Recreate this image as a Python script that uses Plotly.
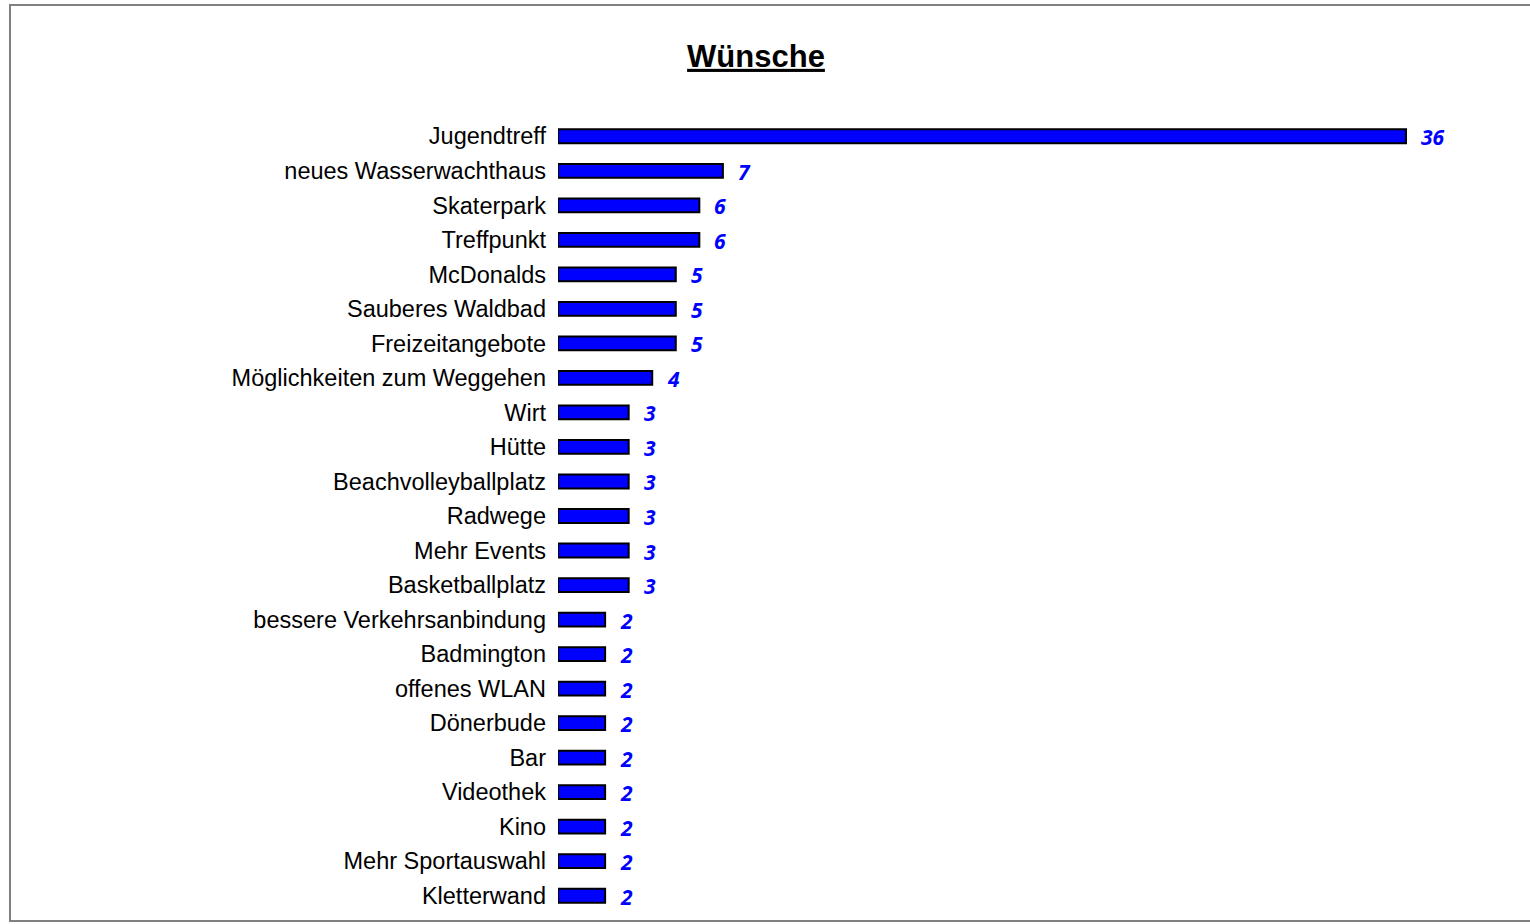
import plotly.graph_objects as go

categories = [
    "Jugendtreff", "neues Wasserwachthaus", "Skaterpark", "Treffpunkt", "McDonalds",
    "Sauberes Waldbad", "Freizeitangebote", "Möglichkeiten zum Weggehen", "Wirt", "Hütte",
    "Beachvolleyballplatz", "Radwege", "Mehr Events", "Basketballplatz",
    "bessere Verkehrsanbindung", "Badmington", "offenes WLAN", "Dönerbude", "Bar",
    "Videothek", "Kino", "Mehr Sportauswahl", "Kletterwand",
]
values = [36, 7, 6, 6, 5, 5, 5, 4, 3, 3, 3, 3, 3, 3, 2, 2, 2, 2, 2, 2, 2, 2, 2]
title = "Wünsche"

W, H = 1530, 924
ML, MR, MT, MB = 558, 30, 119, 11
pw, ph = W - ML - MR, H - MT - MB


def px2paper(x, y):
    return (x - ML) / pw, (H - MB - y) / ph


fig = go.Figure(go.Bar(
    x=values, y=categories, orientation="h",
    marker=dict(color="#0000FF", line=dict(color="black", width=2)),
    width=0.4, showlegend=False, hoverinfo="x+y",
))

for c, v in zip(categories, values):
    fig.add_annotation(x=v, y=c, text="<b><i>" + str(v) + "</i></b>", showarrow=False, xanchor="left",
                       xshift=13, yshift=-1,
                       font=dict(family="Open Sans", size=21, color="#0000FF"))

# outer chart border
x0, y0 = px2paper(10, 5)
x1, y1 = px2paper(1545, 921)
fig.add_shape(type="rect", xref="paper", yref="paper", x0=x0, y0=y1, x1=x1, y1=y0,
              line=dict(color="#808080", width=2), layer="below")

fig.update_layout(
    width=W, height=H,
    margin=dict(l=ML, r=MR, t=MT, b=MB),
    paper_bgcolor="white", plot_bgcolor="white",
    title=dict(text="<b>" + title + "</b>", x=756 / W, xanchor="center", y=1 - 56 / H, yanchor="middle",
               font=dict(family="Liberation Sans", size=31, color="black", lineposition="under")),
    xaxis=dict(range=[0, pw / ((1406 - 558) / 36)], visible=False, showgrid=False, zeroline=False),
    yaxis=dict(autorange="reversed", showgrid=False, showline=False, ticks="",
               ticklabelstandoff=11,
               tickfont=dict(family="Liberation Sans", size=23.5, color="black")),
    font=dict(family="Liberation Sans"),
)

fig.write_html("out.html", config={"displayModeBar": False},
               post_script="document.body.style.margin='0';")
